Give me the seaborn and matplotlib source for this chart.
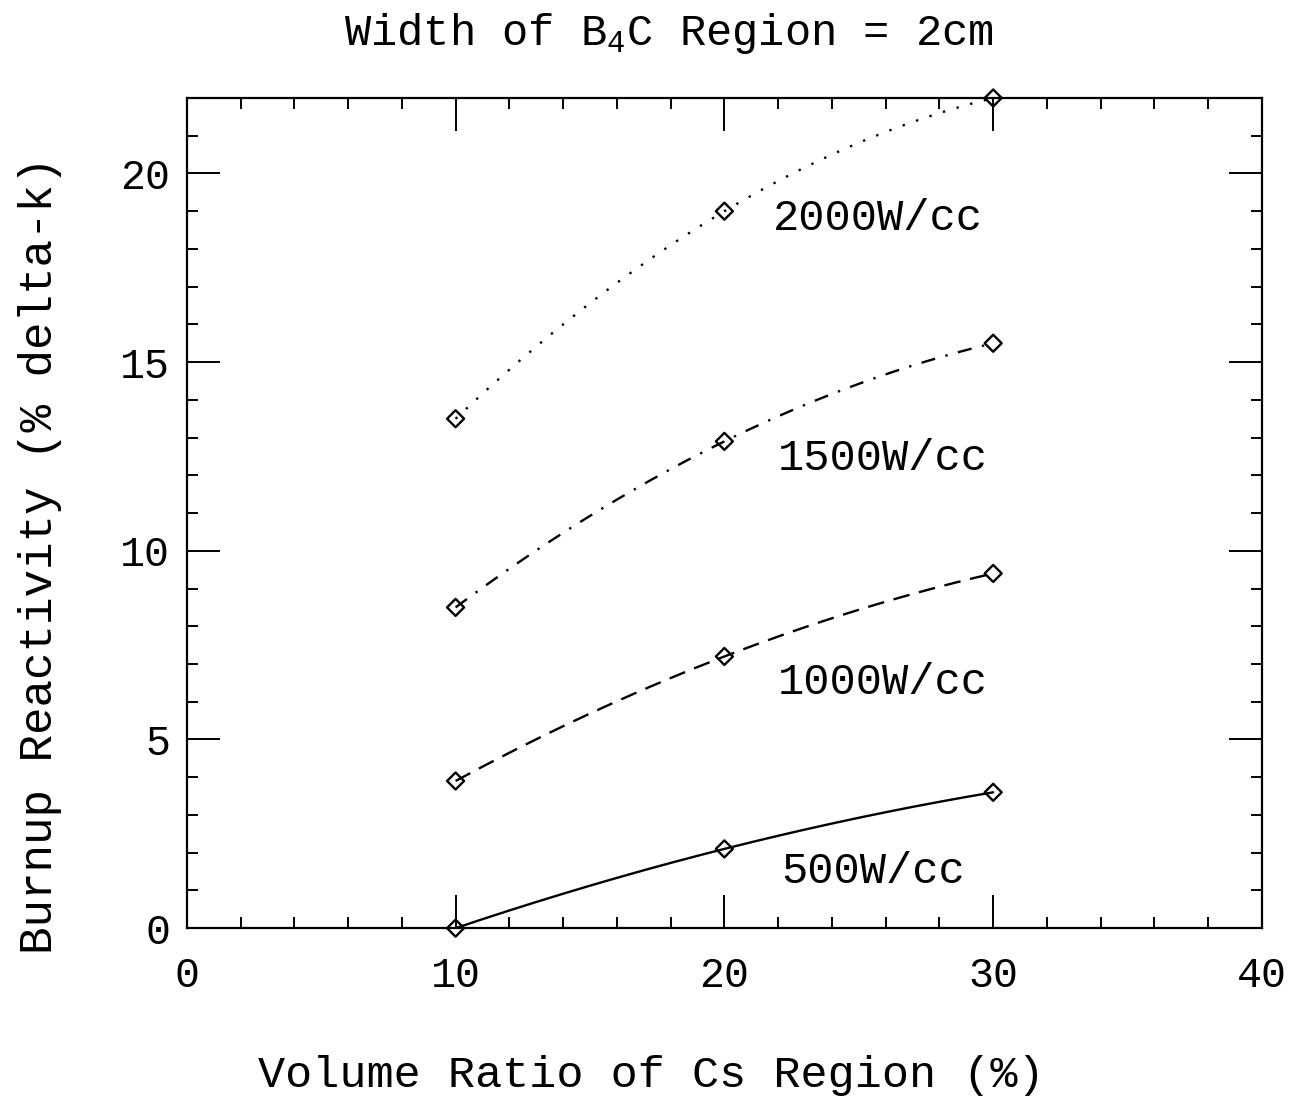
import numpy as np
import pandas as pd
import seaborn as sns
import matplotlib
matplotlib.use("Agg")
import matplotlib.pyplot as plt
from matplotlib.ticker import MultipleLocator

# Burnup reactivity vs. Cs-region volume ratio, one series per power density
volume_ratio = [10, 20, 30]
reactivity_500 = [0.0, 2.1, 3.6]
reactivity_1000 = [3.9, 7.2, 9.4]
reactivity_1500 = [8.5, 12.9, 15.5]
reactivity_2000 = [13.5, 19.0, 22.0]
series_labels = ["500W/cc", "1000W/cc", "1500W/cc", "2000W/cc"]

sns.set_style("ticks")
plt.rcParams["font.family"] = ["Liberation Mono", "DejaVu Sans"]
plt.rcParams["mathtext.fontset"] = "custom"
plt.rcParams["mathtext.rm"] = "Liberation Mono"
for key in ("text.color", "axes.labelcolor", "xtick.color", "ytick.color",
            "axes.edgecolor"):
    plt.rcParams[key] = "black"

series = {
    "500W/cc": reactivity_500,
    "1000W/cc": reactivity_1000,
    "1500W/cc": reactivity_1500,
    "2000W/cc": reactivity_2000,
}
df = pd.DataFrame(
    [(x, y, name) for name, ys in series.items() for x, y in zip(volume_ratio, ys)],
    columns=["ratio", "reactivity", "power"],
)

fig = plt.figure(figsize=(12.97, 11.01), dpi=100)
ax = fig.add_axes([0.144, 0.157, 0.829, 0.754])

lw = 1.7
styles = {
    "500W/cc": dict(linestyle="-"),
    "1000W/cc": dict(dashes=(12 / lw, 7 / lw)),
    "1500W/cc": dict(dashes=(6, 4.5, 1, 4.5)),
    "2000W/cc": dict(dashes=(1, 5)),
}

# smooth quadratic curve through each series' three points
for name, ys in series.items():
    coef = np.polyfit(volume_ratio, ys, 2)
    xs = np.linspace(volume_ratio[0], volume_ratio[-1], 200)
    sns.lineplot(x=xs, y=np.polyval(coef, xs), ax=ax, color="black",
                 linewidth=lw, **styles[name])

sns.scatterplot(data=df, x="ratio", y="reactivity", ax=ax, marker="D",
                s=75, facecolor="none", edgecolor="black", linewidth=1.7,
                zorder=5, clip_on=False, legend=False)

label_pos = {
    "2000W/cc": (21.8, 18.8),
    "1500W/cc": (22.0, 12.45),
    "1000W/cc": (22.0, 6.5),
    "500W/cc": (22.1, 1.5),
}
for name in series_labels:
    x, y = label_pos[name]
    ax.text(x, y, name, fontsize=31.5, va="center", ha="left")

ax.set_xlim(0, 40)
ax.set_ylim(0, 22)
ax.xaxis.set_major_locator(MultipleLocator(10))
ax.xaxis.set_minor_locator(MultipleLocator(2))
ax.yaxis.set_major_locator(MultipleLocator(5))
ax.yaxis.set_minor_locator(MultipleLocator(1))
ax.tick_params(which="both", direction="in", top=True, right=True,
               colors="black", width=1.4)
ax.tick_params(which="major", length=24, labelsize=30)
ax.tick_params(axis="x", which="major", pad=20)
ax.tick_params(axis="y", which="major", pad=12)
ax.tick_params(which="minor", length=8)
for sp in ax.spines.values():
    sp.set_linewidth(1.6)
    sp.set_color("black")

ax.set_xlabel("")
ax.set_ylabel("")
fig.text(0.502, 1 - 1075 / 1101, "Volume Ratio of Cs Region (%)",
         fontsize=32.5, ha="center", va="center")
fig.text(40 / 1297, 1 - 555 / 1101, "Burnup Reactivity (% delta-k)",
         fontsize=33, ha="center", va="center", rotation=90)
fig.text(669 / 1297, 1 - 33 / 1101, r"Width of B$_\mathregular{4}$C Region = 2cm",
         fontsize=31.5, ha="center", va="center")

fig.savefig("out.png", dpi=100, facecolor="white")
